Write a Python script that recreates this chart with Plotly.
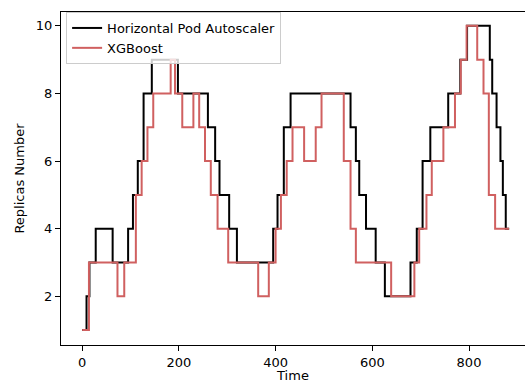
import plotly.graph_objects as go

# Step change times and replica counts for each scaler
hpa_time = [0, 9, 15, 28, 63, 95, 105, 115, 127, 144, 198, 260, 275, 284, 304, 320,
            395, 404, 417, 431, 555, 566, 573, 587, 607, 626, 679, 692, 704, 720,
            757, 782, 796, 843, 848, 857, 865, 870, 876, 883]
hpa_replicas = [1, 2, 3, 4, 3, 4, 5, 6, 8, 9, 8, 7, 6, 5, 4, 3,
                4, 5, 7, 8, 7, 6, 5, 4, 3, 2, 3, 4, 6, 7,
                8, 9, 10, 9, 8, 7, 6, 5, 4, 4]

xgb_time = [0, 14, 73, 87, 111, 123, 135, 147, 183, 192, 207, 230, 242, 254, 266,
            280, 302, 364, 386, 400, 411, 423, 435, 459, 483, 495, 541, 555, 566,
            639, 687, 697, 712, 723, 747, 771, 783, 795, 817, 830, 841, 854, 883]
xgb_replicas = [1, 3, 2, 3, 5, 6, 7, 8, 9, 8, 7, 8, 7, 6, 5,
                4, 3, 2, 3, 4, 5, 6, 7, 6, 7, 8, 6, 4, 3,
                2, 3, 4, 5, 6, 7, 8, 9, 10, 9, 8, 5, 4, 4]

y_ticks = [2, 4, 6, 8, 10]
x_ticks = [0, 200, 400, 600, 800]

FONT = "DejaVu Sans"

fig = go.Figure()
fig.add_trace(go.Scatter(
    x=hpa_time, y=hpa_replicas, mode="lines", line_shape="hv",
    line=dict(color="black", width=2), name="Horizontal Pod Autoscaler"))
fig.add_trace(go.Scatter(
    x=xgb_time, y=xgb_replicas, mode="lines", line_shape="hv",
    line=dict(color="#D06060", width=2), name="XGBoost"))

fig.update_layout(
    width=525, height=383,
    margin=dict(l=61, r=0, t=12, b=36),
    paper_bgcolor="white", plot_bgcolor="white",
    font=dict(family=FONT, size=13, color="black"),
    showlegend=True,
    legend=dict(
        x=0.011, y=1.0, xanchor="left", yanchor="top",
        bgcolor="rgba(255,255,255,0.8)", bordercolor="#cccccc", borderwidth=1,
        font=dict(family=FONT, size=13, color="black"),
        tracegroupgap=0, itemwidth=30,
    ),
    xaxis=dict(
        range=[-43.8, 915.8], tickvals=x_ticks, ticks="outside", ticklen=5,
        tickcolor="black", showline=True, linecolor="black", linewidth=1,
        mirror=True, showgrid=False, zeroline=False,
        title=dict(text="Time", standoff=4, font=dict(family=FONT, size=13)),
    ),
    yaxis=dict(
        range=[0.56, 10.41], tickvals=y_ticks, ticks="outside", ticklen=5,
        tickcolor="black", showline=True, linecolor="black", linewidth=1,
        mirror=False, showgrid=False, zeroline=False,
        title=dict(text="Replicas Number", standoff=8, font=dict(family=FONT, size=13)),
    ),
)

fig.write_html("out.html")
